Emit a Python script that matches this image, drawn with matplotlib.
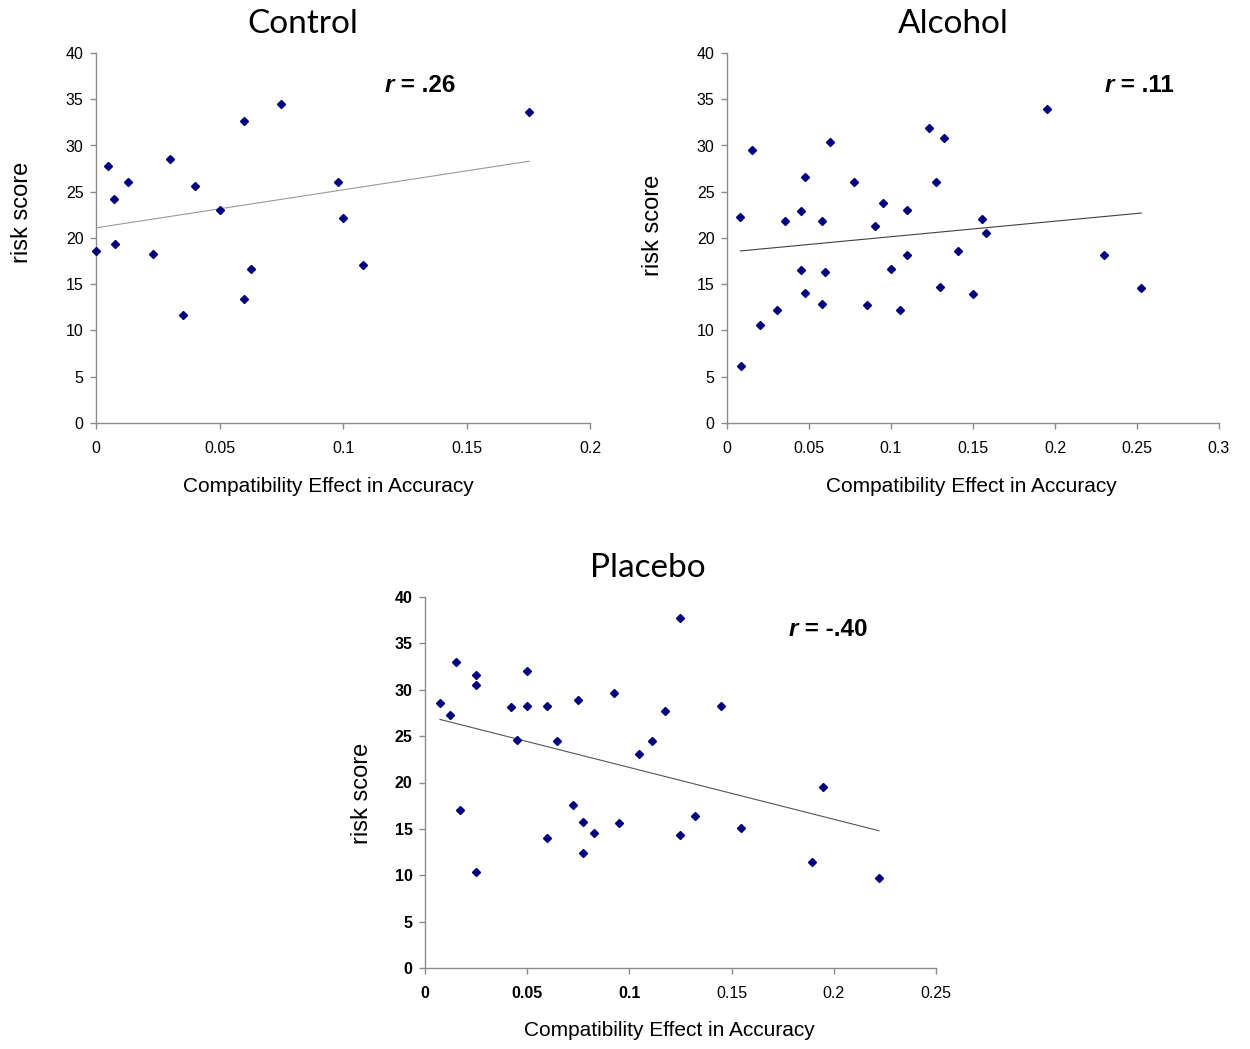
import matplotlib
matplotlib.use("Agg")
import matplotlib.pyplot as plt
from matplotlib.ticker import FuncFormatter, MultipleLocator

# ---------------- data ----------------
control_x = [0.000, 0.005, 0.0073, 0.0076, 0.0129, 0.0229, 0.030, 0.0351, 0.040, 0.050,
             0.060, 0.060, 0.0629, 0.0751, 0.0979, 0.1001, 0.108, 0.1754]
control_y = [18.6, 27.8, 24.2, 19.3, 26.0, 18.25, 28.5, 11.7, 25.6, 23.0,
             32.6, 13.45, 16.7, 34.5, 26.0, 22.2, 17.05, 33.6]
control_trend_x = [0.0, 0.1754]
control_trend_y = [21.1, 28.3]

alcohol_x = [0.0082, 0.0088, 0.0153, 0.0204, 0.0302, 0.0355, 0.0451, 0.0451, 0.0478, 0.0478,
             0.0579, 0.0579, 0.0600, 0.0625, 0.0776, 0.0852, 0.0904, 0.0950, 0.1003, 0.1053,
             0.1099, 0.1099, 0.1229, 0.1273, 0.1301, 0.1326, 0.1406, 0.1500, 0.1552, 0.1578,
             0.1949, 0.2299, 0.2526]
alcohol_y = [22.3, 6.2, 29.5, 10.6, 12.2, 21.8, 22.9, 16.5, 26.6, 14.1,
             21.8, 12.9, 16.3, 30.4, 26.1, 12.8, 21.3, 23.8, 16.7, 12.2,
             23.0, 18.2, 31.9, 26.0, 14.7, 30.8, 18.6, 13.9, 22.1, 20.5,
             33.9, 18.2, 14.6]
alcohol_trend_x = [0.0082, 0.2526]
alcohol_trend_y = [18.6, 22.7]

placebo_x = [0.0073, 0.0124, 0.0151, 0.0172, 0.0251, 0.0251, 0.0251, 0.0423, 0.0448, 0.0500,
             0.0500, 0.0599, 0.0599, 0.0647, 0.0725, 0.0747, 0.0773, 0.0773, 0.0825, 0.0925,
             0.0950, 0.1049, 0.1111, 0.1175, 0.1248, 0.1248, 0.1321, 0.1446, 0.1545, 0.1895,
             0.1947, 0.2221]
placebo_y = [28.6, 27.3, 33.0, 17.0, 31.6, 30.5, 10.3, 28.1, 24.6, 32.0,
             28.2, 28.3, 14.05, 24.5, 17.6, 28.9, 15.7, 12.4, 14.6, 29.6,
             15.6, 23.1, 24.5, 27.7, 37.7, 14.3, 16.4, 28.3, 15.1, 11.4,
             19.5, 9.7]
placebo_trend_x = [0.0073, 0.2221]
placebo_trend_y = [26.8, 14.8]

titles = ["Control", "Alcohol", "Placebo"]
r_labels = [" = .26", " = .11", " = -.40"]
xlabel = "Compatibility Effect in Accuracy"
ylabel = "risk score"

# ---------------- figure ----------------
W, H = 1250, 1049
fig = plt.figure(figsize=(W / 100, H / 100), dpi=100)
fig.patch.set_facecolor("white")

TICKFONT = "Liberation Sans"
GRAY = "#8c8c8c"
MARKER = "#00007f"


def px_axes(left, right, top, bottom):
    return fig.add_axes([left / W, 1 - bottom / H, (right - left) / W, (bottom - top) / H])


def style(ax, xmax, bold_x=(), bold_y=False):
    ax.set_xlim(0, xmax)
    ax.set_ylim(0, 40)
    ax.xaxis.set_major_locator(MultipleLocator(0.05))
    ax.yaxis.set_major_locator(MultipleLocator(5))
    ax.xaxis.set_major_formatter(FuncFormatter(lambda v, p: "%g" % round(v, 3)))
    ax.yaxis.set_major_formatter(FuncFormatter(lambda v, p: "%g" % v))
    for s in ["top", "right"]:
        ax.spines[s].set_visible(False)
    for s in ["left", "bottom"]:
        ax.spines[s].set_color(GRAY)
        ax.spines[s].set_linewidth(1.0)
    ax.tick_params(axis="both", direction="out", length=4, width=1, color=GRAY,
                   labelsize=11.5, labelcolor="black")
    ax.tick_params(axis="x", pad=9)
    ax.tick_params(axis="y", pad=5)
    for lab in ax.get_xticklabels() + ax.get_yticklabels():
        lab.set_fontfamily(TICKFONT)
    if bold_y:
        for lab in ax.get_yticklabels():
            lab.set_fontweight("bold")
    for i, lab in enumerate(ax.get_xticklabels()):
        if i in bold_x:
            lab.set_fontweight("bold")
    ax.set_facecolor("white")


def panel(ax, xs, ys, tx, ty, tcolor, rtxt, rpos):
    ax.plot(tx, ty, color=tcolor, lw=0.8, zorder=2)
    ax.plot(xs, ys, linestyle="none", marker="D", ms=4.3, color=MARKER,
            markeredgecolor=MARKER, zorder=3, clip_on=False)
    t1 = ax.text(rpos[0], rpos[1], "r", transform=ax.transAxes, fontsize=17.5,
                 fontweight="bold", fontstyle="italic", family="Liberation Sans",
                 ha="left", va="center")
    ax.annotate(rtxt, xy=(1, 0), xycoords=t1, va="bottom", ha="left",
                fontsize=17.5, fontweight="bold", family="Liberation Sans")


# Control
ax1 = px_axes(96, 590, 53, 423)
style(ax1, 0.2)
panel(ax1, control_x, control_y, control_trend_x, control_trend_y, "#9a9a9a",
      r_labels[0], (0.584, 0.912))

# Alcohol
ax2 = px_axes(727, 1219, 53, 423)
style(ax2, 0.3)
panel(ax2, alcohol_x, alcohol_y, alcohol_trend_x, alcohol_trend_y, "#404040",
      r_labels[1], (0.767, 0.912))

# Placebo
ax3 = px_axes(425, 936, 597, 968)
style(ax3, 0.25, bold_x=(0, 1, 2, 3), bold_y=True)
panel(ax3, placebo_x, placebo_y, placebo_trend_x, placebo_trend_y, "#555555",
      r_labels[2], (0.712, 0.912))

# Titles
title_pos = [(303, 24), (953, 24), (648, 568)]
for t, (x, y) in zip(titles, title_pos):
    fig.text(x / W, 1 - y / H, t, ha="center", va="center", fontsize=24, family="Lato")

# Axis labels
xl_pos = [(328, 487), (971, 487), (669, 1031)]
for (x, y) in xl_pos:
    fig.text(x / W, 1 - y / H, xlabel, ha="center", va="center", fontsize=15, family="Liberation Sans")
yl_pos = [(22, 212), (653, 225), (362, 793)]
for (x, y) in yl_pos:
    fig.text(x / W, 1 - y / H, ylabel, ha="center", va="center", rotation=90,
             fontsize=17, family="Liberation Sans")

fig.savefig("out.png", dpi=100, facecolor="white")
